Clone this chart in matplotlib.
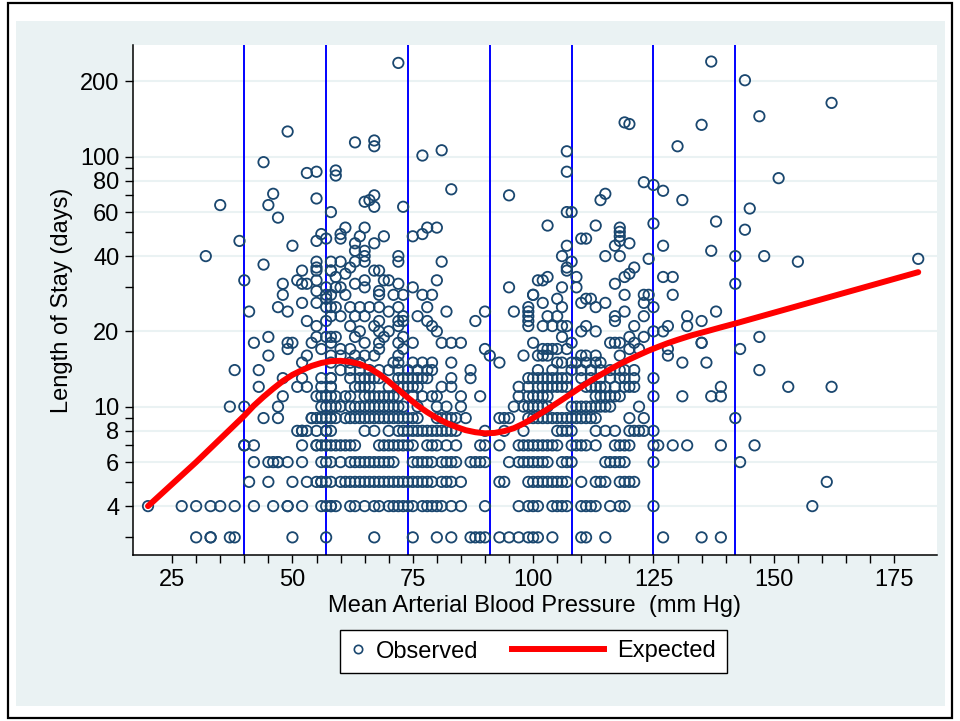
import matplotlib
matplotlib.use("Agg")
import matplotlib.pyplot as plt
from matplotlib.lines import Line2D
from matplotlib.legend_handler import HandlerLine2D
from matplotlib.patches import Rectangle
from matplotlib.ticker import FixedLocator, NullFormatter
import numpy as np

plt.rcParams['font.family'] = ['Liberation Sans', 'DejaVu Sans']

# mean arterial pressure values for each length-of-stay row (days 3..20)
los3 = [30, 33, 33, 37, 38, 50, 57, 67, 75, 80, 83, 87, 88, 89, 90, 93, 95, 97, 99, 100,
        101, 104, 110, 111, 115, 127, 135, 139]
los4 = [20, 27, 30, 33, 35, 38, 42, 46, 49, 49, 52, 56, 57, 58, 58, 59, 62, 63, 65, 67, 68,
        70, 71, 72, 73, 74, 75, 77, 78, 79, 80, 81, 83, 85, 90, 97, 99, 100, 101, 104, 105,
        106, 107, 110, 111, 112, 113, 116, 118, 119, 125, 158]
los5 = [41, 45, 50, 53, 55, 56, 56, 57, 58, 60, 61, 62, 63, 64, 65, 66, 67, 68, 69, 70, 71,
        72, 73, 74, 75, 76, 77, 78, 79, 81, 82, 83, 85, 93, 94, 99, 100, 101, 102, 103, 104,
        105, 106, 107, 110, 113, 114, 115, 118, 119, 120, 121, 161]
los6 = [42, 45, 46, 47, 47, 49, 52, 56, 57, 58, 60, 62, 63, 64, 65, 66, 67, 68, 69, 70, 71,
        75, 76, 77, 78, 79, 81, 82, 83, 84, 87, 88, 89, 90, 95, 97, 98, 99, 100, 101, 102,
        103, 106, 107, 108, 115, 116, 117, 118, 119, 125, 143]
los7 = [40, 40, 42, 52, 55, 55, 56, 57, 57, 58, 59, 60, 61, 62, 63, 68, 69, 70, 71, 72, 73,
        74, 75, 78, 79, 80, 82, 84, 89, 90, 93, 97, 98, 99, 100, 101, 102, 103, 104, 105,
        108, 109, 110, 111, 113, 117, 118, 119, 120, 125, 126, 129, 132, 139, 146]
los8 = [51, 52, 52, 53, 55, 57, 57, 58, 65, 67, 70, 72, 73, 74, 75, 76, 77, 78, 79, 80, 81,
        82, 83, 84, 90, 94, 98, 105, 106, 107, 108, 113, 115, 117, 120, 121, 122, 123, 125]
los9 = [44, 47, 54, 54, 55, 56, 56, 57, 58, 58, 59, 61, 62, 63, 64, 65, 66, 67, 68, 69, 70,
        71, 72, 73, 74, 75, 76, 80, 81, 82, 83, 84, 86, 93, 94, 95, 99, 100, 101, 102, 103,
        104, 105, 106, 107, 108, 109, 110, 111, 112, 113, 120, 123, 142]
los10 = [37, 40, 47, 56, 57, 58, 59, 60, 62, 63, 64, 65, 66, 67, 68, 69, 70, 71, 72, 73, 76,
         80, 82, 85, 96, 98, 99, 100, 101, 102, 103, 108, 109, 110, 111, 112, 113, 114, 115,
         116, 122]
los11 = [48, 55, 56, 57, 58, 59, 61, 62, 65, 66, 67, 68, 69, 70, 71, 72, 75, 77, 79, 80, 85,
         89, 97, 99, 100, 101, 102, 103, 113, 114, 115, 116, 117, 118, 125, 131, 137, 139]
los12 = [43, 51, 53, 56, 58, 58, 63, 64, 65, 66, 70, 72, 73, 74, 75, 76, 81, 83, 97, 99, 101,
         102, 103, 104, 105, 106, 107, 111, 112, 113, 114, 115, 117, 119, 120, 121, 139, 153,
         162]
los13 = [48, 52, 56, 58, 58, 62, 64, 65, 66, 67, 68, 72, 73, 74, 75, 76, 77, 78, 83, 87, 99,
         100, 101, 102, 103, 104, 105, 106, 107, 110, 112, 114, 116, 118, 119, 121, 125]
los14 = [38, 43, 60, 62, 64, 66, 68, 70, 72, 74, 76, 78, 79, 87, 101, 104, 108, 110, 112, 114,
         116, 118, 119, 121, 147]
los15 = [52, 58, 62, 64, 71, 72, 75, 77, 79, 83, 93, 105, 106, 108, 109, 111, 113, 114, 131, 136]
los16 = [45, 53, 58, 60, 63, 65, 67, 72, 91, 98, 101, 102, 103, 110, 111, 113, 118, 128]
los17 = [49, 56, 60, 62, 68, 73, 90, 102, 103, 104, 105, 107, 120, 122, 128, 143]
los18 = [42, 49, 50, 54, 58, 65, 68, 72, 75, 81, 83, 85, 100, 108, 116, 117, 118, 121, 135, 135]
los19 = [45, 55, 57, 58, 59, 63, 69, 73, 106, 120, 123, 147]
los20 = [64, 68, 70, 80, 110, 113, 125, 127]

# longer stays (map, days)
upper = [(35, 64), (45, 64), (47, 57), (58, 60), (39, 46), (50, 44), (55, 46), (56, 49),
         (57, 47), (32, 40), (44, 37), (40, 32), (41, 24), (48, 31), (48, 28), (47, 25),
         (49, 24), (52, 35), (51, 32), (52, 31), (53, 31), (52, 26), (55, 38), (55, 36),
         (55, 35), (55, 32), (55, 29), (55, 26), (57, 30), (57, 28), (57, 27), (57, 25),
         (58, 25), (58, 35), (59, 33), (59, 30), (58, 38), (53, 22), (55, 21), (57, 22),
         (61, 52), (65, 52), (60, 49), (60, 47), (64, 48), (63, 45), (69, 48), (67, 45),
         (63, 42), (65, 42), (65, 40), (65, 38), (75, 48), (77, 49), (78, 52), (80, 52),
         (72, 40), (72, 38), (81, 38), (80, 32), (95, 30), (60, 38), (63, 38), (62, 36),
         (58, 35), (61, 34), (63, 31), (65, 32), (65, 30), (67, 35), (68, 35), (69, 32),
         (70, 32), (72, 31), (60, 30), (58, 28), (61, 28), (68, 29), (68, 28), (71, 28),
         (73, 28), (72, 25), (59, 25), (62, 25), (64, 25), (66, 25), (68, 25), (70, 24),
         (73, 23), (58, 23), (60, 23), (63, 23), (65, 23), (68, 22), (72, 22), (73, 22),
         (62, 21), (67, 21), (72, 21), (75, 30), (77, 28), (79, 28), (78, 25), (82, 24),
         (76, 23), (78, 22), (79, 21), (88, 22), (90, 24), (96, 24), (99, 25), (99, 24),
         (100, 28), (99, 22), (99, 21), (101, 32),
         (107, 60), (108, 60), (103, 53), (113, 53), (118, 52), (118, 50), (118, 48),
         (110, 47), (111, 47), (107, 44), (117, 44), (120, 45), (118, 46), (125, 54),
         (127, 44), (138, 55), (137, 42), (106, 40), (108, 38), (107, 36), (107, 35),
         (115, 40), (118, 40), (124, 39), (102, 32), (103, 33), (109, 33), (119, 33),
         (120, 34), (121, 36), (127, 33), (129, 33), (129, 28), (100, 28), (102, 26),
         (105, 27), (106, 30), (109, 30), (110, 26), (111, 27), (112, 27), (113, 25),
         (115, 26), (117, 31), (119, 28), (123, 28), (124, 28), (123, 26), (125, 25),
         (99, 23), (103, 23), (105, 23), (106, 25), (119, 24), (123, 23), (117, 23),
         (117, 22), (138, 24), (132, 23), (135, 22), (102, 21), (104, 21), (106, 21),
         (107, 21), (132, 21), (121, 21), (128, 21), (111, 21),
         (145, 62), (144, 51), (142, 40), (148, 40), (155, 38), (180, 39), (142, 31),
         (72, 237), (49, 126), (63, 114), (67, 116), (67, 110), (77, 101), (81, 106),
         (44, 95), (53, 86), (55, 87), (59, 88), (59, 84), (46, 71), (55, 68), (65, 66),
         (66, 67), (67, 70), (67, 63), (73, 63), (83, 74), (95, 70),
         (137, 240), (144, 202), (162, 164), (147, 145), (119, 137), (120, 135),
         (135, 134), (107, 105), (107, 87), (130, 110), (151, 82), (123, 79), (125, 77),
         (127, 73), (115, 71), (114, 67), (131, 67)]

# expected curve
fit_map = [20, 30, 40, 42, 44, 46, 48, 50, 52, 54, 56, 58, 60, 62, 64, 66, 68, 70, 72, 74,
           76, 78, 80, 82, 84, 86, 88, 90, 92, 94, 96, 98, 100, 102, 104, 106, 108, 110,
           112, 114, 116, 118, 120, 122, 124, 126, 128, 130, 133, 136, 139, 142, 180]
fit_los = [4.0, 6.0, 9.2, 10.1, 10.95, 11.8, 12.65, 13.4, 14.0, 14.55, 14.95, 15.2, 15.25,
           15.1, 14.8, 14.25, 13.5, 12.6, 11.7, 10.85, 10.1, 9.5, 9.0, 8.6, 8.3, 8.05, 7.9,
           7.82, 7.85, 7.98, 8.2, 8.55, 9.0, 9.5, 10.05, 10.65, 11.3, 12.0, 12.7, 13.4, 14.1,
           14.8, 15.45, 16.1, 16.75, 17.35, 17.95, 18.5, 19.3, 20.0, 20.75, 21.5, 34.5]

knots = [40, 57, 74, 91, 108, 125, 142]

rows = [los3, los4, los5, los6, los7, los8, los9, los10, los11, los12, los13, los14,
        los15, los16, los17, los18, los19, los20]
map_obs, los_obs = [], []
for days, row in zip(range(3, 21), rows):
    map_obs += row
    los_obs += [days] * len(row)
map_obs += [p[0] for p in upper]
los_obs += [p[1] for p in upper]

navy = '#1a476f'
bg = '#eaf2f3'

fig = plt.figure(figsize=(9.6, 7.21), dpi=100)
fig.patch.set_facecolor('white')
W, H = 960.0, 721.0
fig.patches.append(Rectangle((8 / W, 1 - 718 / H), 944 / W, 715 / H, transform=fig.transFigure,
                             facecolor='white', edgecolor='black', lw=1.6, zorder=-3))
fig.patches.append(Rectangle((16 / W, 1 - 706 / H), 929 / W, 685 / H, transform=fig.transFigure,
                             facecolor=bg, edgecolor='none', zorder=-2))

ax = fig.add_axes([133 / W, 1 - 555 / H, 804 / W, 510 / H])
ax.set_facecolor('white')
ax.set_yscale('log')
ax.set_xlim(16.88, 183.9)
ax.set_ylim(2.55, 279.5)

for k in knots:
    ax.axvline(k, color='#0000ff', lw=1.4, zorder=1)
ax.scatter(map_obs, los_obs, s=56, facecolors='none', edgecolors=navy, linewidths=1.3, zorder=2)
ax.plot(fit_map, fit_los, color='#ff0000', lw=4.3, solid_capstyle='round',
        solid_joinstyle='round', zorder=3)

yt = [4, 6, 8, 10, 20, 40, 60, 80, 100, 200]
ax.yaxis.set_major_locator(FixedLocator(yt))
ax.set_yticklabels([str(v) for v in yt])
ax.yaxis.set_minor_locator(FixedLocator([3, 5, 7, 9, 30, 50, 70, 90]))
ax.yaxis.set_minor_formatter(NullFormatter())
ax.set_xticks([25, 50, 75, 100, 125, 150, 175])
ax.set_xticks(list(range(30, 176, 5)), minor=True)
ax.tick_params(which='both', length=5.8, width=1, color='black', labelsize=17, pad=4)
ax.grid(axis='y', which='major', color=bg, lw=1.5)
ax.set_axisbelow(True)

for s in ['top', 'right']:
    ax.spines[s].set_visible(False)
for s in ['left', 'bottom']:
    ax.spines[s].set_linewidth(1.1)

ax.set_xlabel('Mean Arterial Blood Pressure  (mm Hg)', fontsize=17, labelpad=3)
ax.set_ylabel('Length of Stay (days)', fontsize=17, labelpad=5)


class LongLine(HandlerLine2D):
    def get_xdata(self, legend, xdescent, ydescent, width, height, fontsize):
        x = np.array([-xdescent - 3.43 * fontsize, -xdescent + width - 0.1 * fontsize])
        return x, x


h_obs = Line2D([], [], ls='none', marker='o', mfc='none', mec=navy, ms=6, mew=1.2)
h_fit = Line2D([], [], color='#ff0000', lw=4.3)
leg = fig.legend([h_obs, h_fit], ['Observed', 'Expected'], loc='center',
                 bbox_to_anchor=(533.5 / W, 1 - 651.5 / H), ncol=2, fontsize=17,
                 handlelength=0.6, handletextpad=0.45, columnspacing=4.85, borderpad=0.45,
                 fancybox=False, framealpha=1, edgecolor='black', numpoints=1,
                 handler_map={h_fit: LongLine()})
leg.get_frame().set_linewidth(1.0)

fig.savefig('out.png', dpi=100, facecolor=fig.get_facecolor())
